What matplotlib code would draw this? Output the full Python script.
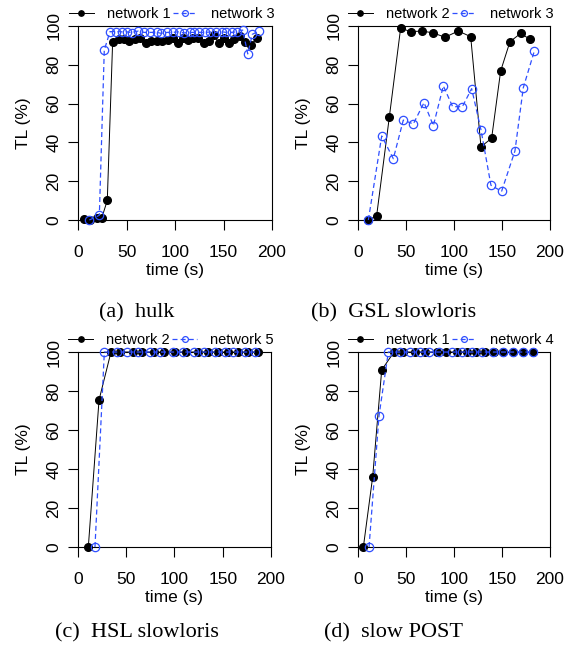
import matplotlib
matplotlib.use("Agg")
import matplotlib.pyplot as plt

plt.rcParams['font.family'] = ['Liberation Sans', 'DejaVu Sans']

# (a) hulk
a_t1 = [6.2, 12.0, 19.3, 24.4, 30.2, 35.7, 42.6, 47.4, 52.9, 58.8, 64.3, 70.1, 75.3, 81.1, 86.6, 92.5,
        98.3, 103.4, 108.6, 113.8, 119.0, 124.0, 129.6, 134.7, 139.9, 145.4, 150.5, 156.0, 161.2,
        167.0, 172.2, 178.0, 184.2]
a_tl1 = [0.4, 0.0, 0.8, 0.9, 10.1, 91.6, 93.5, 93.3, 92.3, 93.1, 93.8, 91.1, 92.1, 92.4, 92.4, 92.6,
         93.6, 91.1, 94.0, 92.8, 94.0, 94.0, 91.1, 92.4, 95.4, 91.1, 93.6, 91.1, 93.3,
         95.0, 91.6, 90.2, 93.6]
a_t3 = [11.7, 22.0, 27.1, 33.0, 39.2, 45.0, 50.0, 55.3, 62.2, 68.0, 74.2, 81.0, 86.0, 91.8, 97.9,
        103.7, 109.2, 115.0, 120.0, 125.2, 131.0, 136.2, 142.0, 148.0, 153.0, 158.6, 163.4, 169.8,
        175.0, 179.7, 186.6]
a_tl3 = [0.0, 2.4, 87.6, 97.1, 97.1, 97.0, 97.0, 96.6, 97.4, 96.7, 96.7, 96.7, 96.2, 96.7, 96.7,
         97.0, 96.4, 96.7, 96.7, 96.7, 96.7, 96.9, 96.7, 97.0, 96.7, 96.7, 97.0, 97.9,
         85.6, 95.7, 97.4]

# (b) GSL slowloris
b_t2 = [10.8, 19.4, 32.6, 44.4, 55.2, 67.0, 78.5, 90.6, 104.5, 117.4, 128.1, 139.2, 148.6, 158.3,
        169.5, 179.2]
b_tl2 = [0.0, 2.1, 52.9, 98.8, 97.1, 97.4, 96.4, 94.2, 97.4, 94.5, 37.8, 42.1, 76.8, 91.9, 96.2, 93.1]
b_t3 = [10.8, 24.7, 36.8, 47.2, 57.6, 68.8, 78.5, 88.9, 98.6, 108.7, 118.4, 128.1, 138.5, 149.6,
        163.5, 172.2, 183.7]
b_tl3 = [0.0, 43.3, 31.6, 51.5, 49.5, 60.5, 48.6, 69.1, 58.4, 58.4, 67.7, 46.5, 17.9, 14.8, 35.6,
         68.2, 87.1]

# (c) HSL slowloris
c_t2 = [10.7, 21.8, 34.2, 43.5, 56.6, 66.7, 79.1, 89.1, 100.5, 111.6, 124.0, 135.0, 145.4, 155.7,
        165.5, 175.8, 186.8]
c_tl2 = [0, 75.4, 100, 100, 100, 100, 100, 100, 100, 100, 100, 100, 100, 100, 100, 100, 100]
c_t5 = [17.6, 27.3, 40.1, 50.5, 62.5, 74.6, 85.0, 98.1, 108.5, 120.5, 130.9, 142.0, 152.3, 161.0,
        173.1, 183.4]
c_tl5 = [0, 100, 100, 100, 100, 100, 100, 100, 100, 100, 100, 100, 100, 100, 100, 100]

# (d) slow POST
d_t1 = [5.6, 15.3, 24.7, 37.5, 46.5, 59.4, 69.8, 82.6, 91.7, 102.8, 113.2, 122.9, 132.3, 141.7,
        151.4, 161.1, 171.5, 182.6]
d_tl1 = [0, 36.0, 90.8, 100, 100, 100, 100, 100, 100, 100, 100, 100, 100, 100, 100, 100, 100, 100]
d_t4 = [11.5, 21.9, 31.6, 43.8, 54.2, 64.6, 74.0, 84.7, 97.6, 108.0, 118.4, 128.8, 141.0, 151.4,
        161.8, 171.5, 181.9]
d_tl4 = [0, 67.4, 100, 100, 100, 100, 100, 100, 100, 100, 100, 100, 100, 100, 100, 100, 100]

panels = [
    ([0.1378, 0.6631, 0.3428, 0.2971], a_t1, a_tl1, "network 1", a_t3, a_tl3, "network 3", "(a)  hulk"),
    ([0.6325, 0.6631, 0.3392, 0.2971], b_t2, b_tl2, "network 2", b_t3, b_tl3, "network 3", "(b)  GSL slowloris"),
    ([0.1378, 0.1623, 0.3410, 0.2986], c_t2, c_tl2, "network 2", c_t5, c_tl5, "network 5", "(c)  HSL slowloris"),
    ([0.6325, 0.1623, 0.3392, 0.2986], d_t1, d_tl1, "network 1", d_t4, d_tl4, "network 4", "(d)  slow POST"),
]

blue = '#2f4fff'
fig = plt.figure(figsize=(5.66, 6.53), dpi=100)

for rect, x1, y1, lab1, x2, y2, lab2, caption in panels:
    ax = fig.add_axes(rect)
    ax.plot(x1, y1, '-o', color='black', lw=0.7, ms=5.5, clip_on=False, label=lab1, zorder=3)
    ax.plot(x2, y2, '--o', color=blue, lw=0.9, ms=6, mfc='none', mew=0.9,
            dashes=(4, 2.5), clip_on=False, label=lab2, zorder=4)
    ax.set_xlim(0, 200)
    ax.set_ylim(0, 100)
    ax.set_xticks([0, 50, 100, 150, 200])
    ax.set_yticks([0, 20, 40, 60, 80, 100])
    ax.tick_params(direction='out', length=7, width=0.8, labelsize=12.5)
    ax.tick_params(axis='x', pad=11)
    ax.tick_params(axis='y', pad=5, labelrotation=90)
    for t in ax.get_yticklabels():
        t.set_va('center')
    for s in ax.spines.values():
        s.set_linewidth(0.8)
    ax.set_xlabel("time (s)", fontsize=12.5, labelpad=2)
    ax.set_ylabel("TL (%)", fontsize=12.5, labelpad=11)
    ax.legend(loc='center', bbox_to_anchor=(0.482, 1.062), ncol=2, frameon=False,
              fontsize=10.5, handlelength=1.7, handletextpad=0.9, columnspacing=0.15,
              borderpad=0, borderaxespad=0, markerscale=0.7, numpoints=1)
    # caption under each panel
    cx = 137 / 566 if rect[0] < 0.5 else 394 / 566
    cy = 1 - 313 / 653 if rect[1] > 0.5 else 1 - 633 / 653
    fig.text(cx, cy, caption, ha='center', va='center', fontsize=16,
             family=['Liberation Serif', 'DejaVu Serif'])

fig.savefig("out.png", dpi=100)
